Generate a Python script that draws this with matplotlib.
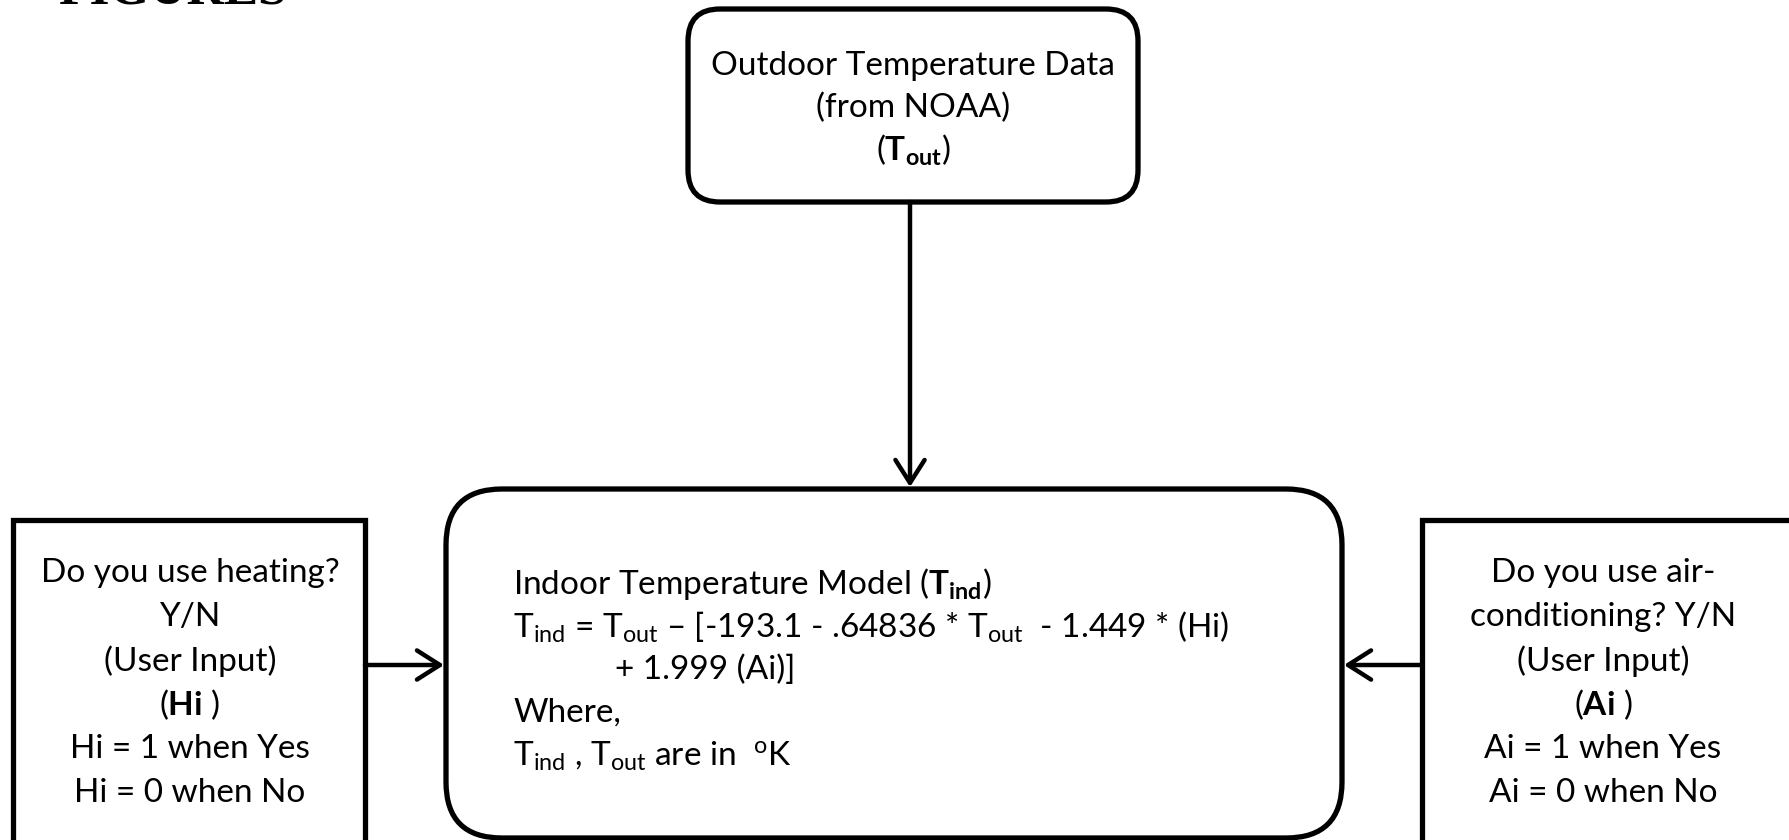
import matplotlib
matplotlib.use("Agg")
import matplotlib.pyplot as plt
from matplotlib.patches import FancyBboxPatch, Rectangle

FONT = "Lato"
plt.rcParams['font.family'] = [FONT, 'DejaVu Sans']
plt.rcParams['mathtext.fontset'] = 'custom'
plt.rcParams['mathtext.rm'] = FONT
plt.rcParams['mathtext.it'] = FONT + ':italic'
plt.rcParams['mathtext.bf'] = FONT + ':bold'

# ---- content ----
top_lines = ["Outdoor Temperature Data", "(from NOAA)", r"($\mathbf{T_{out}}$)"]
left_lines = ["Do you use heating?", "Y/N", "(User Input)", r"($\mathbf{Hi}$ )",
              "Hi = 1 when Yes", "Hi = 0 when No"]
right_lines = ["Do you use air-", "conditioning? Y/N", "(User Input)", r"($\mathbf{Ai}$ )",
               "Ai = 1 when Yes", "Ai = 0 when No"]
center_lines = [r"Indoor Temperature Model ($\mathbf{T_{ind}}$)",
                r"T$_{\mathrm{ind}}$ = T$_{\mathrm{out}}$ – [-193.1 - .64836 * T$_{\mathrm{out}}$  - 1.449 * (Hi)",
                "            + 1.999 (Ai)]",
                "Where,",
                r"T$_{\mathrm{ind}}$ , T$_{\mathrm{out}}$ are in  $^{\mathrm{o}}$K"]
heading = "FIGURES"

W, H = 1789, 840
fig = plt.figure(figsize=(W / 100, H / 100), dpi=100)
ax = fig.add_axes([0, 0, 1, 1])
ax.set_xlim(0, W)
ax.set_ylim(H, 0)
ax.axis('off')

LW = 3.8
FS = 24

# heading, mostly cut off at top (as in the reference page crop)
ax.text(58, 4, heading, fontsize=37, fontweight='bold', family='Liberation Serif',
        va='baseline', ha='left', clip_on=False)

# boxes
ax.add_patch(FancyBboxPatch((688, 9), 450, 193, boxstyle="round,pad=0,rounding_size=32",
                            fc='white', ec='black', lw=LW))
ax.add_patch(FancyBboxPatch((446, 489), 896, 349, boxstyle="round,pad=0,rounding_size=56",
                            fc='white', ec='black', lw=LW))
ax.add_patch(Rectangle((13, 520), 352, 360, fc='white', ec='black', lw=LW))
ax.add_patch(Rectangle((1422, 520), 400, 360, fc='white', ec='black', lw=LW))

# arrows
arrow_kw = dict(arrowstyle='->,head_length=0.55,head_width=0.35', lw=3.2,
                color='black', shrinkA=0, shrinkB=0, mutation_scale=30)
ax.annotate('', xy=(910, 487), xytext=(910, 202), arrowprops=arrow_kw)
ax.annotate('', xy=(444, 665), xytext=(365, 665), arrowprops=arrow_kw)
ax.annotate('', xy=(1344, 665), xytext=(1422, 665), arrowprops=arrow_kw)

# texts
for i, s in enumerate(top_lines):
    ax.text(913, 66 + i * 42, s, fontsize=FS, ha='center', va='center')
for i, s in enumerate(left_lines):
    ax.text(190, 573 + i * 44, s, fontsize=FS, ha='center', va='center')
for i, s in enumerate(right_lines):
    ax.text(1603, 573 + i * 44, s, fontsize=FS, ha='center', va='center')
for i, s in enumerate(center_lines):
    ax.text(513, 584 + i * 43, s, fontsize=FS, ha='left', va='center')

fig.savefig("out.png", dpi=100)
